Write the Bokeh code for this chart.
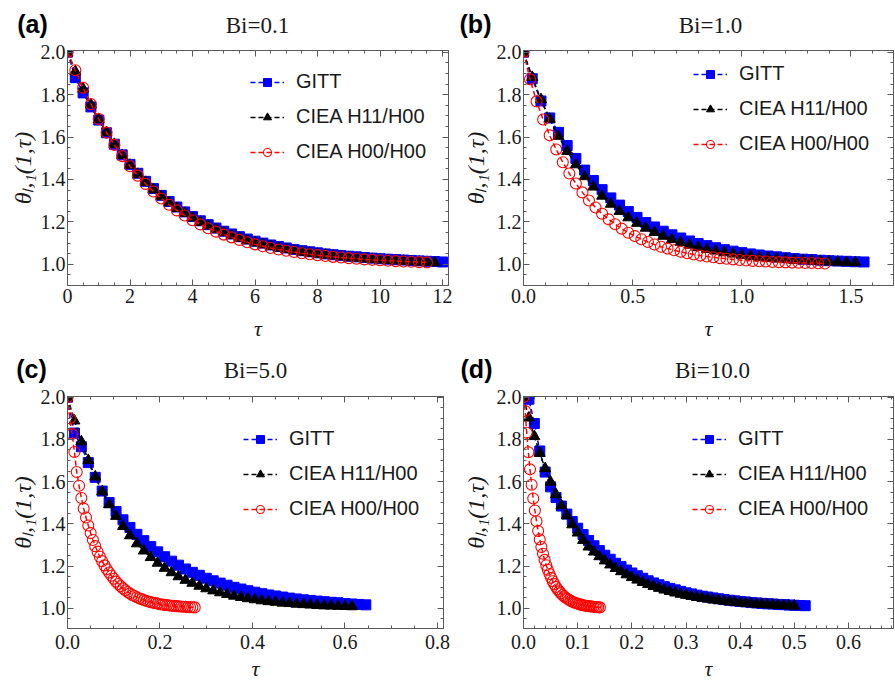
from bokeh.plotting import figure
from bokeh.models import (Range1d, LinearAxis, Label, Legend, LegendItem,
                          SingleIntervalTicker, PrintfTickFormatter)
from bokeh.layouts import column, row
from bokeh.embed import file_html
from bokeh.resources import INLINE

# ---------------- data ----------------
series_names = ["GITT", "CIEA H11/H00", "CIEA H00/H00"]
panel_titles = ["Bi=0.1", "Bi=1.0", "Bi=5.0", "Bi=10.0"]
panel_letters = ["(a)", "(b)", "(c)", "(d)"]

# Panel (a) Bi=0.1
tau_a = [0.0, 0.25, 0.5, 0.75, 1.0, 1.25, 1.5, 1.75, 2.0, 2.25, 2.5, 2.75, 3.0, 3.25,
         3.5, 3.75, 4.0, 4.25, 4.5, 4.75, 5.0, 5.25, 5.5, 5.75, 6.0, 6.25, 6.5, 6.75,
         7.0, 7.25, 7.5, 7.75, 8.0, 8.25, 8.5, 8.75, 9.0, 9.25, 9.5, 9.75, 10.0, 10.25,
         10.5, 10.75, 11.0, 11.25, 11.5, 11.75, 12.0]
gitt_a = [2.000, 1.880, 1.808, 1.742, 1.680, 1.620, 1.566, 1.516, 1.471, 1.429, 1.391,
          1.357, 1.325, 1.296, 1.270, 1.247, 1.225, 1.205, 1.187, 1.171, 1.156, 1.143,
          1.130, 1.119, 1.109, 1.100, 1.091, 1.084, 1.077, 1.070, 1.064, 1.059, 1.054,
          1.049, 1.045, 1.041, 1.038, 1.035, 1.032, 1.029, 1.026, 1.024, 1.022, 1.020,
          1.018, 1.016, 1.014, 1.013, 1.011]
h11_a = [2.000, 1.909, 1.827, 1.752, 1.684, 1.622, 1.566, 1.514, 1.468, 1.425, 1.387,
         1.352, 1.320, 1.291, 1.264, 1.241, 1.219, 1.199, 1.181, 1.164, 1.150, 1.136,
         1.124, 1.112, 1.102, 1.093, 1.085, 1.077, 1.070, 1.064, 1.058, 1.053, 1.048,
         1.044, 1.040, 1.036, 1.032, 1.029, 1.026, 1.024, 1.021, 1.019, 1.017, 1.015,
         1.013, 1.011, 1.010, 1.008]
h00_a = [2.000, 1.915, 1.832, 1.755, 1.685, 1.621, 1.563, 1.510, 1.462, 1.418, 1.379,
         1.343, 1.310, 1.281, 1.254, 1.230, 1.208, 1.188, 1.170, 1.154, 1.140, 1.127,
         1.115, 1.104, 1.094, 1.085, 1.077, 1.070, 1.064, 1.058, 1.052, 1.047, 1.043,
         1.039, 1.035, 1.032, 1.029, 1.026, 1.023, 1.021, 1.019, 1.017, 1.015, 1.013,
         1.012, 1.010, 1.009]

# Panel (b) Bi=1.0
tau_b = [0.00, 0.04, 0.08, 0.12, 0.16, 0.20, 0.24, 0.28, 0.32, 0.36, 0.40, 0.44, 0.48,
         0.52, 0.56, 0.60, 0.64, 0.68, 0.72, 0.76, 0.80, 0.84, 0.88, 0.92, 0.96, 1.00,
         1.04, 1.08, 1.12, 1.16, 1.20, 1.24, 1.28, 1.32, 1.36, 1.40, 1.44, 1.48, 1.52, 1.56]
gitt_b = [2.000, 1.875, 1.770, 1.690, 1.622, 1.560, 1.499, 1.444, 1.395, 1.352, 1.313,
          1.279, 1.249, 1.221, 1.197, 1.176, 1.156, 1.139, 1.124, 1.110, 1.098, 1.088,
          1.078, 1.069, 1.062, 1.055, 1.049, 1.044, 1.039, 1.035, 1.031, 1.027, 1.024,
          1.022, 1.019, 1.017, 1.015, 1.014, 1.012, 1.011]
h11_b = [2.000, 1.882, 1.777, 1.685, 1.604, 1.533, 1.470, 1.414, 1.365, 1.322, 1.284,
         1.250, 1.220, 1.194, 1.171, 1.151, 1.133, 1.117, 1.104, 1.091, 1.080, 1.071,
         1.063, 1.055, 1.049, 1.043, 1.038, 1.033, 1.029, 1.026, 1.023, 1.020, 1.018,
         1.016, 1.014, 1.012, 1.011, 1.009, 1.008]
tau_b_h00 = [0.00, 0.03, 0.06, 0.09, 0.12, 0.15, 0.18, 0.21, 0.24, 0.27, 0.30, 0.33,
             0.36, 0.39, 0.42, 0.45, 0.48, 0.51, 0.54, 0.57, 0.60, 0.63, 0.66, 0.69,
             0.72, 0.75, 0.78, 0.81, 0.84, 0.87, 0.90, 0.93, 0.96, 0.99, 1.02, 1.05,
             1.08, 1.11, 1.14, 1.17, 1.20, 1.23, 1.26, 1.29, 1.32, 1.35, 1.38]
h00_b = [2.000, 1.872, 1.768, 1.683, 1.608, 1.541, 1.481, 1.428, 1.381, 1.339, 1.301,
         1.268, 1.238, 1.212, 1.189, 1.168, 1.149, 1.133, 1.118, 1.105, 1.093, 1.083,
         1.074, 1.066, 1.059, 1.052, 1.046, 1.041, 1.037, 1.033, 1.029, 1.026, 1.023,
         1.020, 1.018, 1.016, 1.014, 1.013, 1.011, 1.010, 1.009, 1.008, 1.007, 1.006,
         1.006, 1.005, 1.004]

# Panel (c) Bi=5.0
tau_c = [0.000, 0.015, 0.030, 0.045, 0.060, 0.075, 0.090, 0.105, 0.120, 0.135, 0.150,
         0.165, 0.180, 0.195, 0.210, 0.225, 0.240, 0.255, 0.270, 0.285, 0.300, 0.315,
         0.330, 0.345, 0.360, 0.375, 0.390, 0.405, 0.420, 0.435, 0.450, 0.465, 0.480,
         0.495, 0.510, 0.525, 0.540, 0.555, 0.570, 0.585, 0.600, 0.615, 0.630, 0.645]
gitt_c = [2.000, 1.830, 1.765, 1.690, 1.620, 1.555, 1.501, 1.458, 1.419, 1.383, 1.350,
          1.320, 1.292, 1.267, 1.244, 1.223, 1.204, 1.186, 1.170, 1.156, 1.142, 1.130,
          1.119, 1.109, 1.099, 1.091, 1.083, 1.076, 1.069, 1.063, 1.058, 1.053, 1.048,
          1.044, 1.040, 1.037, 1.034, 1.031, 1.028, 1.026, 1.022, 1.020, 1.018, 1.016]
h11_c = [2.000, 1.888, 1.789, 1.701, 1.623, 1.553, 1.491, 1.436, 1.388, 1.344, 1.306,
         1.272, 1.241, 1.214, 1.190, 1.169, 1.150, 1.133, 1.119, 1.105, 1.093, 1.083,
         1.074, 1.066, 1.058, 1.052, 1.046, 1.041, 1.036, 1.032, 1.029, 1.025, 1.023,
         1.020, 1.018, 1.016, 1.014, 1.012, 1.011, 1.010, 1.009, 1.008]
tau_c_h00 = [0.000, 0.005, 0.010, 0.015, 0.020, 0.025, 0.030, 0.035, 0.040, 0.045,
             0.050, 0.055, 0.060, 0.065, 0.070, 0.075, 0.080, 0.085, 0.090, 0.095,
             0.100, 0.105, 0.110, 0.115, 0.120, 0.125, 0.130, 0.135, 0.140, 0.145,
             0.150, 0.155, 0.160, 0.165, 0.170, 0.175, 0.180, 0.185, 0.190, 0.195,
             0.200, 0.205, 0.210, 0.215, 0.220, 0.225, 0.230, 0.235, 0.240, 0.245,
             0.250, 0.255, 0.260, 0.265, 0.270, 0.275]
h00_c = [2.000, 1.900, 1.825, 1.740, 1.645, 1.580, 1.522, 1.472, 1.430, 1.392,
         1.356, 1.323, 1.294, 1.268, 1.244, 1.223, 1.203, 1.185, 1.169, 1.154,
         1.140, 1.126, 1.115, 1.104, 1.094, 1.085, 1.077, 1.070, 1.063, 1.058,
         1.052, 1.047, 1.043, 1.039, 1.035, 1.032, 1.029, 1.026, 1.024, 1.022,
         1.019, 1.018, 1.016, 1.015, 1.013, 1.012, 1.011, 1.010, 1.009, 1.008,
         1.007, 1.007, 1.006, 1.005, 1.005, 1.004]

# Panel (d) Bi=10.0
tau_d = [0.00, 0.01, 0.02, 0.03, 0.04, 0.05, 0.06, 0.07, 0.08, 0.09, 0.10, 0.11, 0.12,
         0.13, 0.14, 0.15, 0.16, 0.17, 0.18, 0.19, 0.20, 0.21, 0.22, 0.23, 0.24, 0.25,
         0.26, 0.27, 0.28, 0.29, 0.30, 0.31, 0.32, 0.33, 0.34, 0.35, 0.36, 0.37, 0.38,
         0.39, 0.40, 0.41, 0.42, 0.43, 0.44, 0.45, 0.46, 0.47, 0.48, 0.49, 0.50, 0.51, 0.52]
gitt_d = [2.000, 1.990, 1.875, 1.745, 1.645, 1.575, 1.525, 1.484, 1.446, 1.411, 1.379,
          1.349, 1.321, 1.296, 1.273, 1.251, 1.232, 1.213, 1.197, 1.181, 1.167, 1.154,
          1.142, 1.130, 1.120, 1.111, 1.102, 1.094, 1.087, 1.080, 1.073, 1.068, 1.062,
          1.057, 1.053, 1.049, 1.045, 1.041, 1.038, 1.035, 1.032, 1.030, 1.027, 1.025,
          1.023, 1.021, 1.020, 1.018, 1.017, 1.015, 1.014, 1.013, 1.012]
h11_d = [2.000, 1.902, 1.814, 1.734, 1.662, 1.598, 1.539, 1.486, 1.439, 1.396, 1.357,
         1.322, 1.291, 1.267, 1.245, 1.225, 1.206, 1.189, 1.174, 1.159, 1.146, 1.134,
         1.123, 1.113, 1.104, 1.095, 1.087, 1.080, 1.073, 1.067, 1.062, 1.057, 1.052,
         1.048, 1.044, 1.040, 1.037, 1.034, 1.031, 1.029, 1.026, 1.024, 1.022, 1.020,
         1.019, 1.017, 1.016, 1.014, 1.013, 1.012, 1.011]
tau_d_h00 = [0.000, 0.003, 0.006, 0.009, 0.012, 0.015, 0.018, 0.021, 0.024, 0.027,
             0.030, 0.033, 0.036, 0.039, 0.042, 0.045, 0.048, 0.051, 0.054, 0.057,
             0.060, 0.063, 0.066, 0.069, 0.072, 0.075, 0.078, 0.081, 0.084, 0.087,
             0.090, 0.093, 0.096, 0.099, 0.102, 0.105, 0.108, 0.111, 0.114, 0.117,
             0.120, 0.123, 0.126, 0.129, 0.132, 0.135, 0.138, 0.141]
h00_d = [2.000, 1.934, 1.831, 1.739, 1.658, 1.585, 1.520, 1.463, 1.412, 1.366,
         1.326, 1.290, 1.258, 1.229, 1.204, 1.182, 1.162, 1.144, 1.128, 1.114,
         1.101, 1.090, 1.080, 1.071, 1.063, 1.056, 1.050, 1.045, 1.040, 1.035,
         1.031, 1.028, 1.025, 1.022, 1.020, 1.017, 1.016, 1.014, 1.012, 1.011,
         1.010, 1.009, 1.008, 1.007, 1.006, 1.005, 1.005, 1.004]

# ---------------- styling ----------------
SERIF = "Liberation Serif"
SANS = "Liberation Sans"
AXC = "#5a5a5a"
TXT = "#1a1a1a"
COLORS = ["#0000ff", "#000000", "#ff0000"]


def style_axis(ax, ticker, fmt, standoff, labels=True):
    ax.ticker = ticker
    ax.axis_line_color = AXC
    ax.major_tick_line_color = AXC
    ax.minor_tick_line_color = AXC
    ax.major_tick_in = 6
    ax.major_tick_out = 0
    ax.minor_tick_in = 3
    ax.minor_tick_out = 0
    if labels:
        ax.formatter = PrintfTickFormatter(format=fmt)
        ax.major_label_text_font = SERIF
        ax.major_label_text_font_size = "20px"
        ax.major_label_text_color = TXT
        ax.major_label_standoff = standoff
    else:
        ax.formatter = PrintfTickFormatter(format="")
        ax.major_label_text_font_size = "1px"
        ax.major_label_standoff = 0


def xy(t, y):
    n = min(len(t), len(y))
    return list(t[:n]), list(y[:n])


def make_header(idx, width, height, letter_xy, title_xy):
    h = figure(width=width, height=height, x_range=Range1d(0, width),
               y_range=Range1d(height, 0), output_backend="svg", toolbar_location=None,
               x_axis_location=None, y_axis_location=None, min_border=0)
    h.xgrid.visible = False
    h.ygrid.visible = False
    h.outline_line_color = None
    h.background_fill_color = "white"
    h.border_fill_color = "white"
    h.add_layout(Label(x=letter_xy[0], y=letter_xy[1], text=panel_letters[idx],
                       text_font=SANS, text_font_size="25px", text_font_style="bold",
                       text_color="#000000", text_align="center", text_baseline="middle"))
    h.add_layout(Label(x=title_xy[0], y=title_xy[1], text=panel_titles[idx],
                       text_font=SERIF, text_font_size="23px", text_color=TXT,
                       text_align="center", text_baseline="middle"))
    return h


def make_panel(width, height, borders, xr, yr, xint, xminor, xfmt, xstand,
               ylab_standoff, xlab_standoff, data, legend_loc):
    bl, br, bt, bb = borders
    p = figure(width=width, height=height, x_range=Range1d(*xr), y_range=Range1d(*yr),
               output_backend="svg", toolbar_location=None,
               min_border_left=bl, min_border_right=br, min_border_top=bt,
               min_border_bottom=bb)
    p.xgrid.visible = False
    p.ygrid.visible = False
    p.outline_line_color = AXC
    p.outline_line_width = 1
    p.background_fill_color = "white"
    p.border_fill_color = "white"

    xa = p.xaxis[0]
    ya = p.yaxis[0]
    style_axis(xa, SingleIntervalTicker(interval=xint, num_minor_ticks=xminor), xfmt, xstand)
    style_axis(ya, SingleIntervalTicker(interval=0.2, num_minor_ticks=4), "%.1f", 2)
    ya.axis_label = "θₗ,₁(1,τ)"
    ya.axis_label_text_font = SERIF
    ya.axis_label_text_font_size = "24px"
    ya.axis_label_text_font_style = "italic"
    ya.axis_label_text_color = TXT
    ya.axis_label_standoff = ylab_standoff
    xa.axis_label = "τ"
    xa.axis_label_text_font = SERIF
    xa.axis_label_text_font_size = "22px"
    xa.axis_label_text_font_style = "italic"
    xa.axis_label_text_color = TXT
    xa.axis_label_standoff = xlab_standoff

    top = LinearAxis()
    style_axis(top, SingleIntervalTicker(interval=xint, num_minor_ticks=xminor), "", 0, labels=False)
    p.add_layout(top, "above")
    right = LinearAxis()
    style_axis(right, SingleIntervalTicker(interval=0.2, num_minor_ticks=4), "", 0, labels=False)
    p.add_layout(right, "right")

    items = []
    markers = ["square", "triangle", "circle"]
    sizes = [10, 11, 11]
    for k, (t, y) in enumerate(data):
        tx, ty = xy(t, y)
        c = COLORS[k]
        lr = p.line(tx, ty, line_color=c, line_width=1.5, line_dash="5 3")
        if k == 2:
            sr = p.scatter(tx, ty, marker=markers[k], size=sizes[k], fill_color=None,
                           line_color=c, line_width=1.1)
        else:
            sr = p.scatter(tx, ty, marker=markers[k], size=sizes[k], fill_color=c,
                           line_color=c, line_width=1)
        items.append(LegendItem(label=series_names[k], renderers=[lr, sr]))

    leg = Legend(items=items, location=legend_loc)
    leg.glyph_width = 34
    leg.glyph_height = 20
    leg.label_standoff = 12
    leg.spacing = 12
    leg.padding = 0
    leg.margin = 0
    leg.border_line_color = None
    leg.background_fill_alpha = 0
    leg.label_text_font = SANS
    leg.label_text_font_size = "20px"
    leg.label_text_color = TXT
    leg.label_height = 20
    p.add_layout(leg)
    return p


ha = make_header(0, 453, 40, (32, 23), (257, 25))
hb = make_header(1, 442, 40, (22, 23), (257, 25))
pa = make_panel(453, 303, (67, 5, 10, 57), (0, 12.19), (0.9, 2.008), 2, 4, "%.0f", 3, 2, 10,
                [(tau_a, gitt_a), (tau_a, h11_a), (tau_a, h00_a)], (183, 122))
pb = make_panel(442, 303, (70, 2, 10, 57), (0, 1.695), (0.9, 2.008), 0.5, 5, "%.1f", 3, 5, 10,
                [(tau_b, gitt_b), (tau_b, h11_b), (tau_b_h00, h00_b)], (170, 130))
hc = make_header(2, 453, 43, (31, 25), (255, 27))
hd = make_header(3, 442, 43, (23, 25), (259, 27))
pc = make_panel(453, 299, (67, 10, 10, 57), (0, 0.813), (0.904, 2.003), 0.2, 4, "%.1f", 6, 2, 4,
                [(tau_c, gitt_c), (tau_c, h11_c), (tau_c_h00, h00_c)], (176, 108))
pd = make_panel(442, 299, (70, 2, 10, 57), (0, 0.683), (0.904, 2.003), 0.1, 5, "%.1f", 6, 5, 4,
                [(tau_d, gitt_d), (tau_d, h11_d), (tau_d_h00, h00_d)], (169, 108))

layout = column(row(ha, hb), row(pa, pb), row(hc, hd), row(pc, pd))

with open("out.html", "w") as f:
    f.write(file_html(layout, INLINE))
